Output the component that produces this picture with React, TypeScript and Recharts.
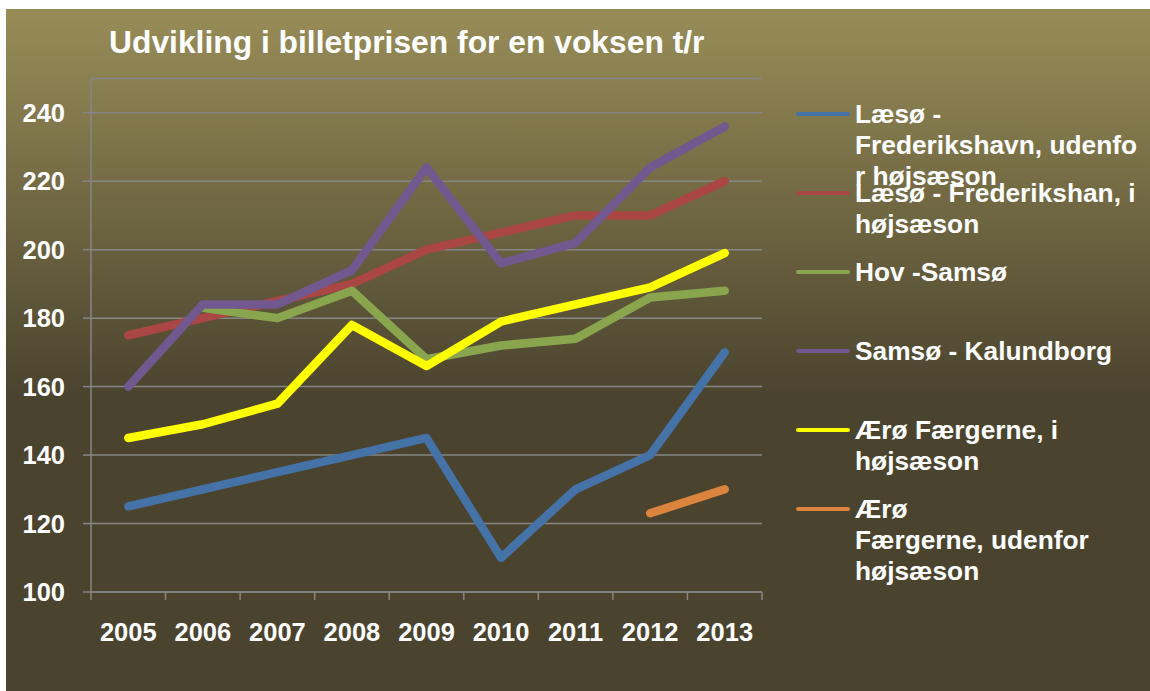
import { LineChart, Line, XAxis, YAxis, CartesianGrid, Legend } from "recharts";

const years = ["2005", "2006", "2007", "2008", "2009", "2010", "2011", "2012", "2013"];

const laesoUdenfor = [125, 130, 135, 140, 145, 110, 130, 140, 170];
const laesoHojsaeson = [175, 180, 185, 190, 200, 205, 210, 210, 220];
const hovSamso = [null, 183, 180, 188, 168, 172, 174, 186, 188];
const samsoKalundborg = [160, 184, 184, 194, 224, 196, 202, 224, 236];
const aeroHojsaeson = [145, 149, 155, 178, 166, 179, 184, 189, 199];
const aeroUdenfor = [null, null, null, null, null, null, null, 123, 130];

const yTicks = [100, 120, 140, 160, 180, 200, 220, 240];

const seriesKeys = ["laesoUd", "laesoI", "hov", "samso", "aeroI", "aeroUd"];
const seriesNames = [
  "Læsø - Frederikshavn, udenfor højsæson",
  "Læsø - Frederikshan, i højsæson",
  "Hov -Samsø",
  "Samsø - Kalundborg",
  "Ærø Færgerne, i højsæson",
  "Ærø Færgerne, udenfor højsæson",
];
// how the labels wrap in the original legend
const legendLines = [
  ["Læsø -", "Frederikshavn, udenfo", "r højsæson"],
  ["Læsø - Frederikshan, i", "højsæson"],
  ["Hov -Samsø"],
  ["Samsø - Kalundborg"],
  ["Ærø Færgerne, i", "højsæson"],
  ["Ærø", "Færgerne, udenfor", "højsæson"],
];
const colors = ["#4572A7", "#AA4643", "#89A54E", "#71588F", "#FFFF00", "#DB843D"];

const seriesValues = [laesoUdenfor, laesoHojsaeson, hovSamso, samsoKalundborg, aeroHojsaeson, aeroUdenfor];

const data = years.map((year, i) => {
  const row: Record<string, any> = { year };
  seriesKeys.forEach((k, s) => {
    row[k] = seriesValues[s][i];
  });
  return row;
});

const W = 1144;
const H = 682;
const plotLeft = 85;
const plotRight = 756;
const band = (plotRight - plotLeft) / years.length;
const font = '"Liberation Sans", Arial, sans-serif';
const axisGray = "#868686";

function YearTick(props: any) {
  const { x, y, payload, index } = props;
  const half = band / 2;
  return (
    <g>
      <line x1={x - half} x2={x - half} y1={y} y2={y + 8} stroke={axisGray} strokeWidth={1.5} />
      {index === years.length - 1 && (
        <line x1={x + half} x2={x + half} y1={y} y2={y + 8} stroke={axisGray} strokeWidth={1.5} />
      )}
      <text x={x} y={y + 49} textAnchor="middle" fill="#fff" fontSize={25.5} fontWeight="bold" fontFamily={font}>
        {payload.value}
      </text>
    </g>
  );
}

function LegendBox() {
  return (
    <div style={{ position: "relative", width: 354, height: 600, fontFamily: font }}>
      {seriesNames.map((name, i) => {
        const top = 105 + i * 79;
        return (
          <div key={name} style={{ position: "absolute", left: 0, top, width: 354 }}>
            <div
              style={{
                position: "absolute",
                left: 0,
                top: -2.25,
                width: 54,
                height: 4.5,
                borderRadius: 3,
                background: colors[i],
              }}
            />
            <div
              style={{
                position: "absolute",
                left: 59,
                top: -15.5,
                color: "#fff",
                fontSize: 26.3,
                fontWeight: "bold",
                lineHeight: "31px",
                whiteSpace: "nowrap",
                textAlign: "left",
              }}
            >
              {legendLines[i].map((l) => (
                <div key={l}>{l}</div>
              ))}
            </div>
          </div>
        );
      })}
    </div>
  );
}

export default function App() {
  return (
    <>
      <style>{"body{margin:0;overflow:hidden}"}</style>
      <div
        style={{
          position: "absolute",
          left: 6,
          top: 9,
          width: W,
          height: H,
          background: "linear-gradient(to bottom, #988d58 0%, #4a432e 57%, #4a432e 100%)",
        }}
      >
        <div
          style={{
            position: "absolute",
            left: 103,
            top: 17,
            color: "#fff",
            fontFamily: font,
            fontSize: 31.8,
            fontWeight: "bold",
            lineHeight: "32px",
            whiteSpace: "nowrap",
          }}
        >
          Udvikling i billetprisen for en voksen t/r
        </div>
        <div style={{ position: "absolute", left: 0, top: 0 }}>
          <LineChart width={W} height={H} data={data} margin={{ top: 69.5, right: W - plotRight, bottom: 39, left: 0 }}>
            <CartesianGrid vertical={false} stroke={axisGray} strokeWidth={1.5} />
            <XAxis
              dataKey="year"
              interval={0}
              height={60}
              padding={{ left: band / 2, right: band / 2 }}
              tickLine={false}
              tickSize={0}
              tickMargin={0}
              axisLine={{ stroke: axisGray, strokeWidth: 1.5 }}
              tick={<YearTick />}
            />
            <YAxis
              width={plotLeft}
              domain={[100, 250]}
              ticks={yTicks}
              interval={0}
              tickSize={8}
              tickMargin={18}
              tickLine={{ stroke: axisGray, strokeWidth: 1.5 }}
              axisLine={{ stroke: axisGray, strokeWidth: 1.5 }}
              tick={{ fill: "#fff", fontSize: 25.5, fontWeight: "bold", fontFamily: font }}
            />
            <Legend
              layout="vertical"
              align="center"
              verticalAlign="middle"
              content={<LegendBox />}
              wrapperStyle={{ left: 790, top: 0, width: 354, height: 600 }}
            />
            {seriesKeys.map((k, i) => (
              <Line
                key={k}
                dataKey={k}
                name={seriesNames[i]}
                stroke={colors[i]}
                strokeWidth={8.5}
                strokeLinecap="round"
                strokeLinejoin="round"
                dot={false}
                activeDot={false}
                connectNulls={false}
                isAnimationActive={false}
              />
            ))}
          </LineChart>
        </div>
      </div>
    </>
  );
}
